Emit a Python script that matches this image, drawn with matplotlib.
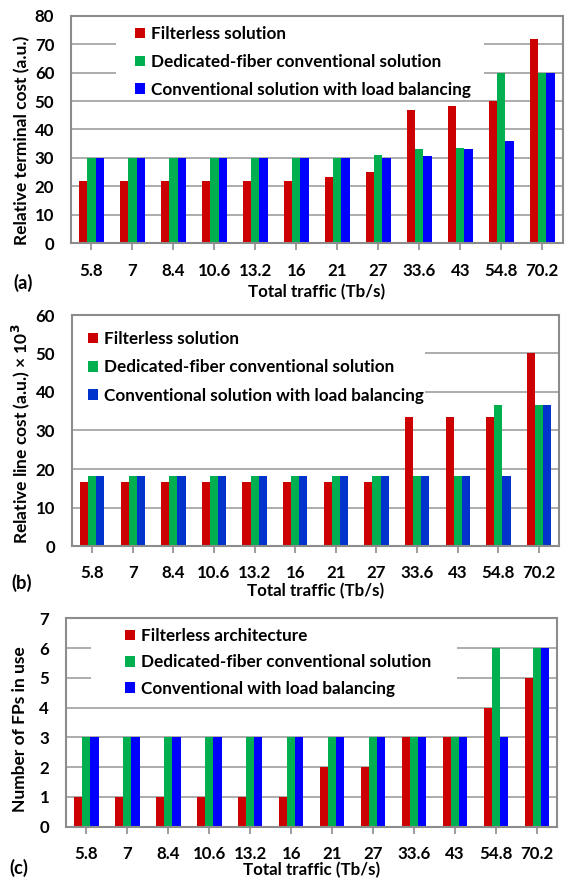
import matplotlib
matplotlib.use("Agg")
import matplotlib.pyplot as plt
from matplotlib.patches import Rectangle
import numpy as np

plt.rcParams['font.family'] = ['Lato', 'DejaVu Sans']
plt.rcParams['font.weight'] = 'bold'

categories = ['5.8', '7', '8.4', '10.6', '13.2', '16', '21', '27', '33.6', '43', '54.8', '70.2']

terminal_filterless = [21.8, 21.8, 21.8, 21.8, 21.8, 21.8, 23.4, 24.9, 46.8, 48.2, 50.0, 71.7]
terminal_dedicated = [30, 30, 30, 30, 30, 30, 30, 31.1, 33.0, 33.6, 60, 60]
terminal_balanced = [30, 30, 30, 30, 30, 30, 30, 30, 30.8, 33.2, 36.0, 60]

line_filterless = [16.6, 16.6, 16.6, 16.6, 16.6, 16.6, 16.6, 16.6, 33.4, 33.4, 33.4, 50.1]
line_dedicated = [18.3, 18.3, 18.3, 18.3, 18.3, 18.3, 18.3, 18.3, 18.3, 18.3, 36.7, 36.7]
line_balanced = [18.3, 18.3, 18.3, 18.3, 18.3, 18.3, 18.3, 18.3, 18.3, 18.3, 18.3, 36.7]

fp_filterless = [1, 1, 1, 1, 1, 1, 2, 2, 3, 3, 4, 5]
fp_dedicated = [3, 3, 3, 3, 3, 3, 3, 3, 3, 3, 6, 6]
fp_balanced = [3, 3, 3, 3, 3, 3, 3, 3, 3, 3, 3, 6]

labels_ab = ['Filterless solution', 'Dedicated-fiber conventional solution',
             'Conventional solution with load balancing']
labels_c = ['Filterless architecture', 'Dedicated-fiber conventional solution',
            'Conventional with load balancing']

W, H = 566, 880
fig = plt.figure(figsize=(W / 100, H / 100), dpi=100)

RED = '#CC0000'
GREEN = '#00B050'
GRID = '#A6A6A6'
FRAME = '#8C8C8C'
FS_LEG = 12.3
FS_TICK = 12.2
FS_YLAB = 12.5
FS_XLAB = 12.2
FS_TAG = 13.2


def add_panel(box, series, colors, labels, ymax, ystep, ylabel, ylabel_center,
              legend_box, legend_anchor, labelspacing, tag, tag_xy, xlabel_y):
    x0, y0, x1, y1 = box
    ax = fig.add_axes([x0 / W, 1 - y1 / H, (x1 - x0) / W, (y1 - y0) / H])
    x = np.arange(len(categories))
    bw = 0.2
    handles = []
    for k, (vals, c) in enumerate(zip(series, colors)):
        b = ax.bar(x + (k - 1) * bw, vals, bw, color=c, edgecolor='none', zorder=2)
        handles.append(b)
    ax.set_xlim(-0.5, len(categories) - 0.5)
    ax.set_ylim(0, ymax)
    ax.set_yticks(np.arange(0, ymax + ystep / 2, ystep))
    ax.set_xticks(x)
    ax.set_xticklabels(categories)
    ax.set_axisbelow(True)
    ax.yaxis.grid(True, color=GRID, linewidth=1.3)
    for s in ax.spines.values():
        s.set_color(FRAME)
        s.set_linewidth(1.5)
    ax.tick_params(axis='x', direction='out', length=5, color=FRAME, width=1.2,
                   pad=9, labelsize=FS_TICK)
    ax.tick_params(axis='y', length=0, pad=12, labelsize=FS_TICK)
    for t in ax.get_xticklabels() + ax.get_yticklabels():
        t.set_fontweight('bold')

    def fx(px):
        return (px - x0) / (x1 - x0)

    def fy(py):
        return (y1 - py) / (y1 - y0)

    lx0, ly0, lx1, ly1 = legend_box
    ax.add_patch(Rectangle((fx(lx0), fy(ly1)), fx(lx1) - fx(lx0), fy(ly0) - fy(ly1),
                           transform=ax.transAxes, facecolor='white',
                           edgecolor='none', zorder=1))
    leg = ax.legend(handles, labels, loc='upper left',
                    bbox_to_anchor=(fx(legend_anchor[0]), fy(legend_anchor[1])),
                    frameon=False, borderpad=0, borderaxespad=0,
                    handlelength=0.6, handleheight=0.6, handletextpad=0.35,
                    labelspacing=labelspacing, prop={'size': FS_LEG, 'weight': 'bold'})
    leg.set_zorder(5)

    fig.text(ylabel_center[0] / W, 1 - ylabel_center[1] / H, ylabel, rotation=90,
             ha='center', va='center', fontsize=FS_YLAB, fontweight='bold')
    fig.text(tag_xy[0] / W, 1 - tag_xy[1] / H, tag, ha='left', va='center',
             fontsize=FS_TAG, fontweight='bold')
    fig.text(((x0 + x1) / 2) / W, 1 - xlabel_y / H, 'Total traffic (Tb/s)',
             ha='center', va='center', fontsize=FS_XLAB, fontweight='bold')
    return ax


add_panel((71, 15.7, 562.7, 243.3),
          [terminal_filterless, terminal_dedicated, terminal_balanced],
          [RED, GREEN, '#0000FF'], labels_ab, 80, 10,
          'Relative terminal cost (a.u.)', (22, 140),
          (116, 18, 484, 98), (135, 26), 0.70, '(a)', (13, 283), 292)

add_panel((71.8, 315, 559.3, 546),
          [line_filterless, line_dedicated, line_balanced],
          [RED, GREEN, '#0033CC'], labels_ab, 60, 10,
          'Relative line cost (a.u.) \u00d7 10$^3$', (21, 434),
          (72, 318, 425, 404), (88, 331), 0.73, '(b)', (11, 583), 591)

add_panel((65.8, 618.3, 557.5, 826.7),
          [fp_filterless, fp_dedicated, fp_balanced],
          [RED, GREEN, '#0000FF'], labels_c, 7, 1,
          'Number of FPs in use', (20, 729),
          (91, 621, 457, 698), (125, 628), 0.61, '(c)', (9, 868), 870)

fig.savefig('out.png', dpi=100)
